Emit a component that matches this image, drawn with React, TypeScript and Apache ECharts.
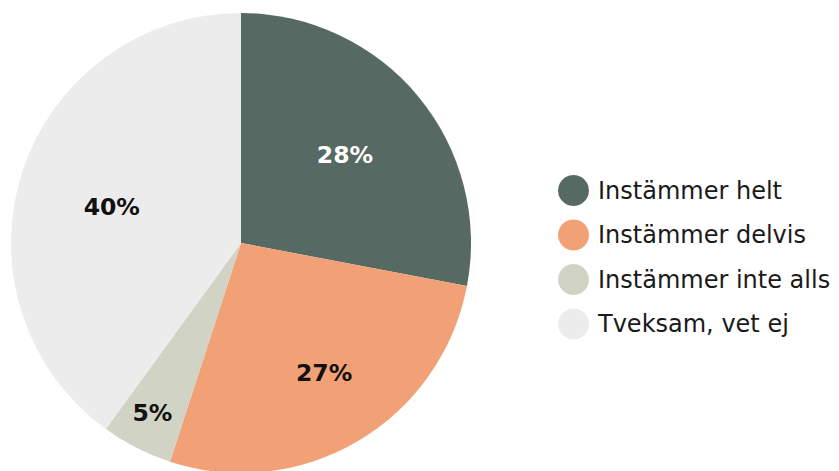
import React, { useEffect, useRef } from "react";
import * as echarts from "echarts";

const categories = ["Instämmer helt", "Instämmer delvis", "Instämmer inte alls", "Tveksam, vet ej"];
const values = [28, 27, 5, 40];
const colors = ["#566962", "#F2A177", "#D1D4C4", "#ECECEC"];
const labelColors = ["#ffffff", "#111111", "#111111", "#111111"];
const labelOffsets = [[13, -13], [23, 28], [-35, 65], [-17, 0]];

export default function App() {
  const ref = useRef<HTMLDivElement>(null);
  useEffect(() => {
    if (!ref.current) return;
    const chart = echarts.init(ref.current, undefined, { renderer: "svg" });
    chart.setOption({
      animation: false,
      legend: {
        orient: "vertical",
        left: 553,
        top: 170,
        icon: "circle",
        itemWidth: 31,
        itemHeight: 31,
        itemGap: 13.5,
        textStyle: { fontFamily: "DejaVu Sans", fontSize: 24, color: "#1a1a1a", padding: [0, 0, 0, 4] },
        data: categories,
      },
      series: [
        {
          type: "pie",
          center: [241, 243],
          radius: [0, 230],
          startAngle: 90,
          clockwise: true,
          label: {
            show: true,
            position: "inside",
            formatter: "{c}%",
            fontFamily: "DejaVu Sans",
            fontWeight: "bold",
            fontSize: 23.5,
          },
          labelLine: { show: false },
          emphasis: { disabled: true },
          data: categories.map((name, i) => ({
            name,
            value: values[i],
            itemStyle: { color: colors[i] },
            label: { color: labelColors[i], offset: labelOffsets[i] },
          })),
        },
      ],
    });
    return () => chart.dispose();
  }, []);
  return <div ref={ref} style={{ width: 839, height: 471, position: "absolute", left: 0, top: 0 }} />;
}
